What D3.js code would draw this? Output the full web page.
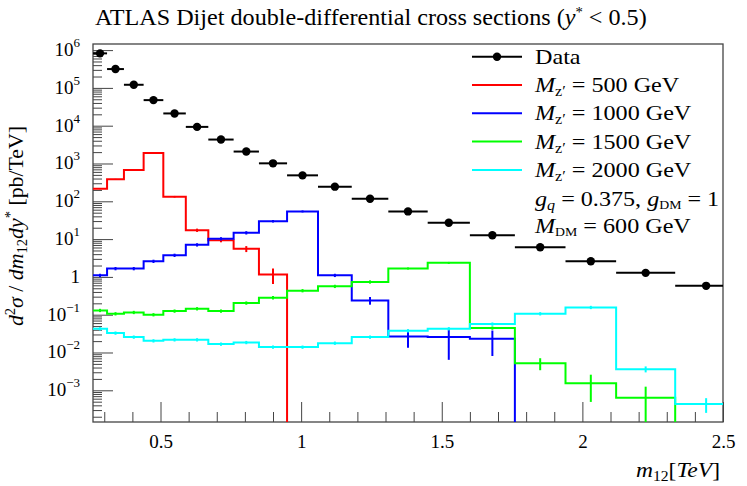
<!DOCTYPE html>
<html><head><meta charset="utf-8">
<script src="https://cdn.jsdelivr.net/npm/d3@7"></script>
<style>
body{margin:0;background:#fff}
svg{display:block}
text{font-family:"Liberation Serif","Times New Roman",serif;fill:#000}
</style>
</head><body>
<svg id="c" width="747" height="486"></svg>
<script>
// ---- data ----
const binEdges = [0.26,0.31,0.37,0.44,0.51,0.59,0.67,0.76,0.85,0.95,1.06,1.18,1.31,1.45,1.60,1.76,1.94,2.12,2.33,2.55];
const dataValues = [8.2e5,3.15e5,1.21e5,4.75e4,2.11e4,9.3e3,4.3e3,2.07e3,1.01e3,486,244,117,54,27,12.7,6.1,2.6,1.28,0.58];
const mz500  = [216,381,672,1900,132,17.2,9.35,5.53,1.15,0,0,0,0,0,0,0,0,0,0];
const mz1000 = [1.10,1.66,1.66,2.59,3.74,7.06,10.2,14.7,29.8,54,1.10,0.239,0.0266,0.0256,0.0231,0,0,0,0];
const mz1500 = [0.130,0.106,0.115,0.100,0.125,0.144,0.125,0.204,0.282,0.433,0.563,0.737,1.66,2.35,0.0444,0.00523,0.00154,0.00064,0];
const mz2000 = [0.0425,0.0327,0.0256,0.0204,0.0217,0.0217,0.0167,0.0184,0.0139,0.0139,0.0177,0.0256,0.0376,0.0425,0.0567,0.106,0.156,0.00363,0.000436];
// relative statistical errors of the signal histograms
const err500  = [0.03,0.03,0.03,0.02,0.05,0.1,0.12,0.18,0.44,0,0,0,0,0,0,0,0,0,0];
const err1000 = [0.1,0.1,0.1,0.1,0.1,0.1,0.1,0.1,0.08,0.06,0.1,0.23,0.5,0.75,0.65,0,0,0,0];
const err1500 = [0.1,0.1,0.1,0.1,0.1,0.1,0.1,0.1,0.1,0.1,0.1,0.1,0.06,0.06,0.1,0.35,0.68,0.95,0];
const err2000 = [0.1,0.1,0.1,0.1,0.1,0.1,0.1,0.1,0.1,0.1,0.1,0.1,0.1,0.1,0.1,0.1,0.1,0.18,0.42];
const seriesNames = ["500","1000","1500","2000"];
const seriesColors = ["#ff0000","#0000ff","#00ff00","#00ffff"];
const xMajorTicks = [0.5,1,1.5,2,2.5];
const xTickLabels = ["0.5","1","1.5","2","2.5"];
const yExponents = [-3,-2,-1,0,1,2,3,4,5,6];

// ---- layout ----
const L=93,R=723,T=44,B=422;
const svg=d3.select("#c");
const x=d3.scaleLinear().domain([0.26,2.5]).range([L,R]);
const y=d3.scaleLog().domain([1.45e-4,1.45e6]).range([B,T]);

svg.append("defs").append("clipPath").attr("id","clip")
  .append("rect").attr("x",L).attr("y",T).attr("width",R-L).attr("height",B-T);

// horizontal stretch helper (reference font is wider than the available serif)
function stretch(sel,x0,y0,sx){
  sel.attr("x",0).attr("y",0).attr("transform",`translate(${x0},${y0}) scale(${sx},1)`);
}

// axes ticks
const axisCol="#444";
const gx=svg.append("g").attr("transform",`translate(0,${B})`);
gx.call(d3.axisBottom(x).tickValues(d3.range(3,25).map(d=>d/10).filter(d=>Math.abs(d*2-Math.round(d*2))>1e-6)).tickSize(-10).tickFormat(""));
gx.select(".domain").remove();
const gx2=svg.append("g").attr("transform",`translate(0,${B})`);
gx2.call(d3.axisBottom(x).tickValues(xMajorTicks).tickSize(-20).tickPadding(13).tickFormat((d,i)=>xTickLabels[i]));
gx2.select(".domain").remove();
gx2.selectAll("text").attr("font-size",19).attr("font-family","Liberation Serif");

const minorY=[];
for(let n=-4;n<=6;n++) for(let k=2;k<=9;k++){const v=k*Math.pow(10,n); if(v>1.45e-4&&v<1.45e6) minorY.push(v);}
const gy=svg.append("g").attr("transform",`translate(${L},0)`);
gy.call(d3.axisLeft(y).tickValues(minorY).tickSize(-9).tickFormat(""));
gy.select(".domain").remove();
const gy2=svg.append("g").attr("transform",`translate(${L},0)`);
gy2.call(d3.axisLeft(y).tickValues(yExponents.map(e=>Math.pow(10,e))).tickSize(-20).tickFormat(""));
gy2.select(".domain").remove();
svg.selectAll(".tick line").attr("stroke",axisCol);

// y tick labels 10^n
yExponents.forEach(e=>{
  const t=svg.append("text").attr("x",80).attr("y",y(Math.pow(10,e))+6).attr("text-anchor","end").attr("font-size",19);
  if(e===0){t.text("1");}
  else{
    t.append("tspan").text("10");
    t.append("tspan").attr("dy",-9).attr("font-size",13).text(e<0?"\u2212"+(-e):String(e));
  }
});

// frame
svg.append("rect").attr("x",L).attr("y",T).attr("width",R-L).attr("height",B-T)
  .attr("fill","none").attr("stroke",axisCol).attr("stroke-width",1.3);

// ---- histograms ----
const plot=svg.append("g").attr("clip-path","url(#clip)");
function histPath(vals){
  let d="",prevZero=true;
  vals.forEach((v,i)=>{
    const x0=x(binEdges[i]),x1=x(binEdges[i+1]);
    if(v>0){
      const yy=y(v);
      if(i===0) d+=`M${x0},${yy}`;
      else if(prevZero) d+=`M${x0},${B}L${x0},${yy}`;
      else d+=`L${x0},${yy}`;
      d+=`L${x1},${yy}`;
      prevZero=false;
    } else {
      if(!prevZero) d+=`L${x0},${B+2}`;
      prevZero=true;
    }
  });
  return d;
}
[[mz500,err500],[mz1000,err1000],[mz1500,err1500],[mz2000,err2000]].forEach(([vals,errs],si)=>{
  const col=seriesColors[si];
  plot.append("path").attr("d",histPath(vals)).attr("fill","none").attr("stroke",col).attr("stroke-width",2);
  vals.forEach((v,i)=>{
    if(v<=0) return;
    const xc=x((binEdges[i]+binEdges[i+1])/2);
    const lo=Math.max(v*(1-errs[i]),1e-6), hi=v*(1+errs[i]);
    plot.append("line").attr("x1",xc).attr("x2",xc).attr("y1",y(lo)).attr("y2",y(hi))
      .attr("stroke",col).attr("stroke-width",2);
  });
});

// ---- data points ----
dataValues.forEach((v,i)=>{
  const xc=x((binEdges[i]+binEdges[i+1])/2);
  plot.append("line").attr("x1",x(binEdges[i])).attr("x2",x(binEdges[i+1])).attr("y1",y(v)).attr("y2",y(v))
    .attr("stroke","#000").attr("stroke-width",2);
  plot.append("circle").attr("cx",xc).attr("cy",y(v)).attr("r",4.2).attr("fill","#000");
});

// ---- legend ----
const lg=svg.append("g");
const rowY=i=>56.7+28.3*i;
const LS=1.15;
lg.append("line").attr("x1",472).attr("x2",522).attr("y1",rowY(0)).attr("y2",rowY(0)).attr("stroke","#000").attr("stroke-width",2);
lg.append("circle").attr("cx",497).attr("cy",rowY(0)).attr("r",4.2).attr("fill","#000");
stretch(lg.append("text").attr("font-size",21).text("Data"),535,rowY(0)+7,LS);
seriesNames.forEach((nm,i)=>{
  const yy=rowY(i+1);
  lg.append("line").attr("x1",472).attr("x2",522).attr("y1",yy).attr("y2",yy).attr("stroke",seriesColors[i]).attr("stroke-width",2);
  const t=lg.append("text").attr("font-size",21);
  t.append("tspan").attr("font-style","italic").text("M");
  t.append("tspan").attr("dy",4).attr("font-size",14).text("z\u2032");
  t.append("tspan").attr("dy",-4).text(" = "+nm+" GeV");
  stretch(t,535,yy+7,LS);
});
{
  const t=lg.append("text").attr("font-size",21);
  t.append("tspan").attr("font-style","italic").text("g");
  t.append("tspan").attr("dy",4).attr("font-size",14).attr("font-style","italic").text("q");
  t.append("tspan").attr("dy",-4).text(" = 0.375, ");
  t.append("tspan").attr("font-style","italic").text("g");
  t.append("tspan").attr("dy",3).attr("font-size",12).text("DM");
  t.append("tspan").attr("dy",-3).text(" = 1");
  stretch(t,535,rowY(5)+8,LS);
  const t2=lg.append("text").attr("font-size",21);
  t2.append("tspan").attr("font-style","italic").text("M");
  t2.append("tspan").attr("dy",3).attr("font-size",12).text("DM");
  t2.append("tspan").attr("dy",-3).text(" = 600 GeV");
  stretch(t2,535,rowY(6)+6,LS);
}

// ---- title ----
{
  const t=svg.append("text").attr("font-size",23);
  t.append("tspan").text("ATLAS Dijet double-differential cross sections (");
  t.append("tspan").attr("font-style","italic").text("y");
  t.append("tspan").attr("dy",-8).attr("font-size",14).text("*");
  t.append("tspan").attr("dy",8).text(" < 0.5)");
  stretch(t,95,25,1);
  const w=t.node().getComputedTextLength();
  stretch(t,95,25,552/w);
}

// ---- axis titles ----
{
  const t=svg.append("text").attr("transform","translate(23,226) rotate(-90) scale(1.04,1)").attr("text-anchor","middle").attr("font-size",21);
  t.append("tspan").attr("font-style","italic").text("d");
  t.append("tspan").attr("dy",-8).attr("font-size",14).text("2");
  t.append("tspan").attr("dy",8).attr("font-style","italic").text("\u03c3");
  t.append("tspan").text(" / ");
  t.append("tspan").attr("font-style","italic").text("dm");
  t.append("tspan").attr("dy",4).attr("font-size",14).text("12");
  t.append("tspan").attr("dy",-4).attr("font-style","italic").text("dy");
  t.append("tspan").attr("dy",-8).attr("font-size",14).text("*");
  t.append("tspan").attr("dy",8).text(" [pb/TeV]");

  const xl=svg.append("text").attr("text-anchor","end").attr("font-size",21);
  xl.append("tspan").attr("font-style","italic").text("m");
  xl.append("tspan").attr("dy",4).attr("font-size",14).text("12");
  xl.append("tspan").attr("dy",-4).text("[");
  xl.append("tspan").attr("font-style","italic").text("TeV");
  xl.append("tspan").text("]");
  stretch(xl,720,477,1.12);
}
</script>
</body></html>
